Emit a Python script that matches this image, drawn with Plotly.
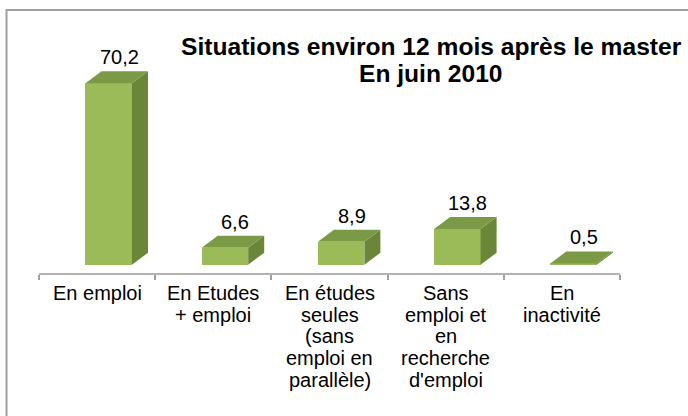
import plotly.graph_objects as go

categories = ["En emploi", "En Etudes<br>+ emploi",
              "En études<br>seules<br>(sans<br>emploi en<br>parallèle)",
              "Sans<br>emploi et<br>en<br>recherche<br>d'emploi",
              "En<br>inactivité"]
values = [70.2, 6.6, 8.9, 13.8, 0.5]
value_labels = ["70,2", "6,6", "8,9", "13,8", "0,5"]
title_lines = ["Situations environ 12 mois après le master", "En juin 2010"]

FONT = "Liberation Sans, Arial, sans-serif"
FRONT = "#9BBB59"
TOP = "#7B9A45"
SIDE = "#6A8739"

# 3D look parameters (axis units)
off = 0.10      # front face centre offset from category centre
w = 0.40        # front face width
dx = 0.138      # depth, x
dy = 4.64       # depth, y

pos = list(range(1, len(values) + 1))
front_x = [p + off for p in pos]

fig = go.Figure()
fig.add_trace(go.Bar(x=front_x, y=values, width=w, base=0,
                     marker=dict(color=FRONT, line=dict(width=0)),
                     hoverinfo="skip", showlegend=False))

for fx, v in zip(front_x, values):
    xl, xr = fx - w / 2, fx + w / 2
    # side face
    fig.add_trace(go.Scatter(x=[xr, xr + dx, xr + dx, xr, xr],
                             y=[0, dy, v + dy, v, 0],
                             mode="lines", fill="toself", fillcolor=SIDE,
                             line=dict(width=0, color=SIDE),
                             hoverinfo="skip", showlegend=False))
    # top face
    fig.add_trace(go.Scatter(x=[xl, xr, xr + dx, xl + dx, xl],
                             y=[v, v, v + dy, v + dy, v],
                             mode="lines", fill="toself", fillcolor=TOP,
                             line=dict(width=0, color=TOP),
                             hoverinfo="skip", showlegend=False))

annotations = []
for p, v, lab in zip(pos, values, value_labels):
    annotations.append(dict(x=p + 0.19, y=v + dy, xref="x", yref="y",
                            text=lab, showarrow=False, yanchor="middle",
                            yshift=14, font=dict(family=FONT, size=20, color="#000000")))

for p, cat in zip(pos, categories):
    for k, line in enumerate(cat.split("<br>")):
        annotations.append(dict(x=p, y=0, xref="x", yref="paper",
                                text=line, showarrow=False, yanchor="middle",
                                xanchor="center", yshift=-(20 + k * 21.7),
                                font=dict(family=FONT, size=20, color="#000000")))

annotations.append(dict(x=0.6747, y=0.8945, xref="paper", yref="paper",
                        text="<b>" + title_lines[0] + "</b>", showarrow=False,
                        xanchor="center", yanchor="middle",
                        font=dict(family=FONT, size=24.6, color="#000000")))
annotations.append(dict(x=0.6747, y=0.7905, xref="paper", yref="paper",
                        text="<b>" + title_lines[1] + "</b>", showarrow=False,
                        xanchor="center", yanchor="middle",
                        font=dict(family=FONT, size=24.6, color="#000000")))

fig.update_layout(
    width=688, height=416,
    margin=dict(l=39, r=68, t=20, b=143),
    paper_bgcolor="white", plot_bgcolor="white",
    annotations=annotations,
    shapes=[dict(type="rect", xref="paper", yref="paper",
                 x0=-0.0559, y0=-0.7, x1=1.2, y1=1.0395,
                 line=dict(color="#A0A0A0", width=2), fillcolor="rgba(0,0,0,0)",
                 layer="below")],
    xaxis=dict(range=[0.5, 5.5], showgrid=False, zeroline=False,
               showline=True, linecolor="#B3B3B3", linewidth=2,
               tickmode="array", tickvals=[0.5, 1.5, 2.5, 3.5, 4.5, 5.5],
               ticks="outside", ticklen=5, tickcolor="#A0A0A0", tickwidth=1.5,
               showticklabels=False, fixedrange=True),
    yaxis=dict(range=[-3.2, 94.7], visible=False, fixedrange=True),
    bargap=0,
)

fig.write_html("out.html", config={"displayModeBar": False},
               post_script="document.body.style.margin='0px';")
